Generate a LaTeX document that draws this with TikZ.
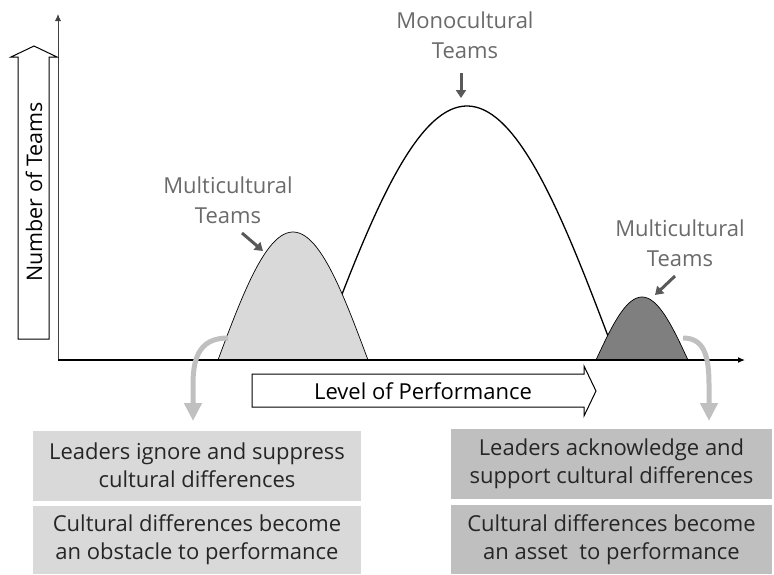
\documentclass[tikz,border=0pt]{standalone}
\usepackage{fontspec}
\setmainfont{Open Sans}
\usepackage{xcolor}
\usetikzlibrary{arrows.meta}
\definecolor{lightfill}{HTML}{D9D9D9}
\definecolor{darkfill}{HTML}{BFBFBF}
\definecolor{bellgray}{HTML}{7F7F7F}
\definecolor{txtgray}{HTML}{6A6A6A}
\definecolor{ptrgray}{HTML}{595959}
\definecolor{swoopgray}{HTML}{C0C0C0}
\tikzset{lbl/.style={text=txtgray,font=\fontsize{22}{30}\selectfont,align=center,inner sep=0pt}}
\tikzset{ptr/.style={ptrgray,line width=3pt,-{Triangle[width=10pt,length=8pt]}}}
\tikzset{swoop/.style={swoopgray,line width=5pt,-{Triangle[width=17pt,length=18pt]}}}
\tikzset{cbox/.style={minimum width=328pt,minimum height=70pt,align=center,inner sep=0pt,font=\fontsize{22}{28}\selectfont,text=black!85}}
\tikzset{blk/.style={draw,line width=1pt,fill=white,line join=miter}}

\begin{document}
\begin{tikzpicture}[x=1pt,y=-1pt]
        \useasboundingbox (0,0) rectangle (774,574);

        \coordinate (o) at (58,360);
        \coordinate (ytop) at (58,14);
        \coordinate (xend) at (745,360);

        \draw [line width=1.3pt] plot[domain=317:617,samples=90] (\x,{360-254*sin(0.6*(\x-317))});
        \filldraw [fill=lightfill,line width=0.7pt] plot[domain=218:368,samples=60] (\x,{360-128*sin(1.2*(\x-218))}) -- cycle;
        \filldraw [fill=bellgray,line width=0.7pt] plot[domain=596:688,samples=40] (\x,{360-63*sin(1.9565*(\x-596))}) -- cycle;

        \draw [black!75,line width=0.8pt,-{Latex[length=7pt,width=6pt]}] (o) -- (ytop);
        \draw [line width=1.3pt,-{Latex[length=7pt,width=6pt]}] (o) -- (xend);

        \draw [blk] (18,339) -- (18,57) -- (11,57) -- (34,46) -- (57,57) -- (49,57) -- (49,339) -- cycle;
        \node[rotate=90,font=\fontsize{21.5}{25}\selectfont] (yl) at (34,192) {Number of Teams};
        \draw [blk] (252,374) -- (584,374) -- (584,366) -- (596,391) -- (584,416) -- (584,407) -- (252,407) -- cycle;
        \node[font=\fontsize{22}{26}\selectfont] (xl) at (423,391) {Level of Performance};

        \node[lbl] (mono) at (465,35) {Monocultural\\Teams};
        \node[lbl] (multl) at (228,200) {Multicultural\\Teams};
        \node[lbl] (multr) at (680,243) {Multicultural\\Teams};

        \coordinate (pm0) at (461,73);
        \coordinate (pm1) at (461,98);
        \coordinate (pl0) at (242,233);
        \coordinate (pl1) at (263,251);
        \coordinate (pr0) at (675,276);
        \coordinate (pr1) at (655,295);
        \draw [ptr] (pm0) -- (pm1);
        \draw [ptr] (pl0) -- (pl1);
        \draw [ptr] (pr0) -- (pr1);

        \node[cbox,fill=lightfill] (ignore) at (197,465.5) {Leaders ignore and suppress\\cultural differences};
        \node[cbox,fill=lightfill,minimum height=68pt] (obstacle) at (197,540) {Cultural differences become\\an obstacle to performance};
        \node[cbox,fill=darkfill,minimum width=321pt] (support) at (611.5,464) {Leaders acknowledge and\\support cultural differences};
        \node[cbox,fill=darkfill,minimum width=321pt,minimum height=69pt] (asset) at (611.5,539.5) {Cultural differences become\\an asset~~to performance};

        \coordinate (sl0) at (228,338);
        \coordinate (sl1) at (193,421);
        \coordinate (sr0) at (683,338);
        \coordinate (sr1) at (709,421);
        \draw [swoop] (sl0) .. controls (202,338) and (193,354) .. (193,384) -- (sl1);
        \draw [swoop] (sr0) .. controls (703,338) and (709,354) .. (709,384) -- (sr1);
    \end{tikzpicture}
\end{document}
